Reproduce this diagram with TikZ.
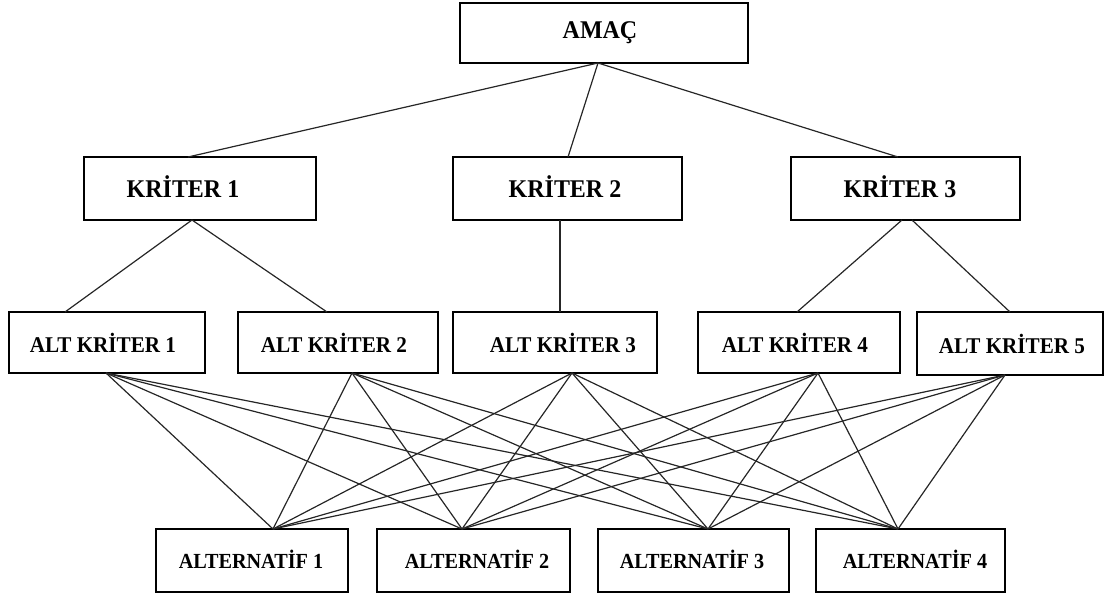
\documentclass[tikz,border=0pt]{standalone}
\usepackage{fontspec}
\usepackage{graphicx}
\setmainfont{Liberation Serif}
\newcommand{\shtext}[4]{\raisebox{#4}{\makebox[0pt]{\hspace*{#1}\scalebox{0.94}[1]{\fontsize{#2}{#2}\selectfont\bfseries #3}}}}
\begin{document}
\begin{tikzpicture}[x=1pt,y=-1pt,
  boxnode/.style={draw=black,line width=2.6pt,rectangle,inner sep=0pt,outer sep=0pt,fill=white},
  conn/.style={draw=black!85,line width=1.2pt}]
\useasboundingbox (0,0) rectangle (1112,597);
% boxes
\node[boxnode,minimum width=288pt,minimum height=60pt] (amac) at (604,33) {\shtext{-8pt}{25.5}{AMAÇ}{0pt}};
\node[boxnode,minimum width=232pt,minimum height=63pt] (k1) at (200,188.5) {\shtext{-34pt}{25.5}{KRİTER 1}{3pt}};
\node[boxnode,minimum width=229pt,minimum height=63pt] (k2) at (567.5,188.5) {\shtext{-5pt}{25.5}{KRİTER 2}{3pt}};
\node[boxnode,minimum width=229pt,minimum height=63pt] (k3) at (905.5,188.5) {\shtext{-11pt}{25.5}{KRİTER 3}{3pt}};
\node[boxnode,minimum width=196pt,minimum height=61pt] (a1) at (107,342.5) {\shtext{-8pt}{22.5}{ALT KRİTER 1}{0pt}};
\node[boxnode,minimum width=200pt,minimum height=61pt] (a2) at (338,342.5) {\shtext{-8pt}{22.5}{ALT KRİTER 2}{0pt}};
\node[boxnode,minimum width=204pt,minimum height=61pt] (a3) at (555,342.5) {\shtext{16pt}{22.5}{ALT KRİTER 3}{0pt}};
\node[boxnode,minimum width=202pt,minimum height=61pt] (a4) at (799,342.5) {\shtext{-8pt}{22.5}{ALT KRİTER 4}{0pt}};
\node[boxnode,minimum width=186pt,minimum height=63pt] (a5) at (1010,343.5) {\shtext{4pt}{22.5}{ALT KRİTER 5}{0pt}};
\node[boxnode,minimum width=192pt,minimum height=63pt] (alt1) at (252,560.5) {\shtext{-2pt}{21.5}{ALTERNATİF 1}{3pt}};
\node[boxnode,minimum width=193pt,minimum height=63pt] (alt2) at (473.5,560.5) {\shtext{7pt}{21.5}{ALTERNATİF 2}{3pt}};
\node[boxnode,minimum width=191pt,minimum height=63pt] (alt3) at (693.5,560.5) {\shtext{-3pt}{21.5}{ALTERNATİF 3}{3pt}};
\node[boxnode,minimum width=189pt,minimum height=63pt] (alt4) at (910.5,560.5) {\shtext{9pt}{21.5}{ALTERNATİF 4}{3pt}};
% connection points
\coordinate (amS) at ([xshift=-6pt]amac.south);
\coordinate (k1N) at ([xshift=-12pt]k1.north);
\coordinate (k2N) at ([xshift=0.5pt]k2.north);
\coordinate (k3N) at ([xshift=-7.5pt]k3.north);
\coordinate (k1S) at ([xshift=-8pt]k1.south);
\coordinate (k2S) at ([xshift=-7.5pt]k2.south);
\coordinate (k3Sa) at ([xshift=-3.5pt]k3.south);
\coordinate (k3Sb) at ([xshift=6.5pt]k3.south);
\coordinate (a1N) at ([xshift=-42pt]a1.north);
\coordinate (a2N) at ([xshift=-11pt]a2.north);
\coordinate (a3N) at ([xshift=5pt]a3.north);
\coordinate (a4N) at ([xshift=-2pt]a4.north);
\coordinate (a5N) at ([xshift=0pt]a5.north);
\coordinate (a1S) at ([xshift=-1pt]a1.south);
\coordinate (a2S) at ([xshift=14pt]a2.south);
\coordinate (a3S) at ([xshift=17pt]a3.south);
\coordinate (a4S) at ([xshift=19pt]a4.south);
\coordinate (a5S) at ([xshift=-5pt]a5.south);
\coordinate (alt1N) at ([xshift=21pt]alt1.north);
\coordinate (alt2N) at ([xshift=-11.5pt]alt2.north);
\coordinate (alt3N) at ([xshift=14.5pt]alt3.north);
\coordinate (alt4N) at ([xshift=-12.5pt]alt4.north);
% connectors
\draw[conn] (amS) -- (k1N);
\draw[conn] (amS) -- (k2N);
\draw[conn] (amS) -- (k3N);
\draw[conn] (k1S) -- (a1N);
\draw[conn] (k1S) -- (a2N);
\draw[conn] (k2S) -- (a3N);
\draw[conn] (k3Sa) -- (a4N);
\draw[conn] (k3Sb) -- (a5N);
\foreach \s in {a1S,a2S,a3S,a4S,a5S}{
  \foreach \t in {alt1N,alt2N,alt3N,alt4N}{
    \draw[conn] (\s) -- (\t);
  }
}
\end{tikzpicture}
\end{document}
